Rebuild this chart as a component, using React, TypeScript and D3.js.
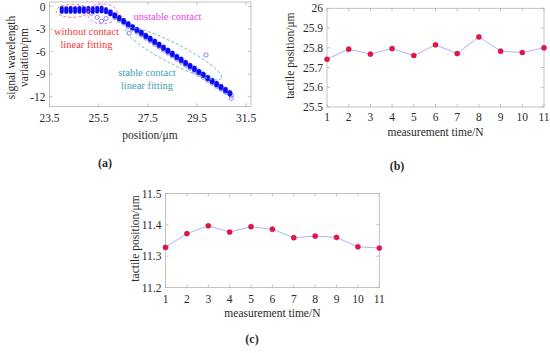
import * as React from 'react'
import * as d3 from 'd3'

// panel (a): stacked samples per position (high / low edge of each stack)
const positionUm = [
  24.0, 24.18, 24.36, 24.54, 24.72, 24.9, 25.08, 25.26, 25.44, 25.62,
  25.8, 25.98, 26.16, 26.34, 26.52, 26.7, 26.88, 27.06, 27.24, 27.42,
  27.6, 27.78, 27.96, 28.14, 28.32, 28.5, 28.68, 28.86, 29.04, 29.22,
  29.4, 29.58, 29.76, 29.94, 30.12, 30.3, 30.48, 30.66, 30.84,
]
const waveHigh = [
  -0.2, -0.22, -0.2, -0.21, -0.19, -0.21, -0.2, -0.22, -0.18, -0.15,
  -0.35, -0.72, -1.1, -1.45, -1.85, -2.25, -2.65, -3.02, -3.4, -3.82,
  -4.2, -4.6, -5.0, -5.4, -5.8, -6.2, -6.62, -7.0, -7.42, -7.82,
  -8.2, -8.62, -9.0, -9.42, -9.82, -10.22, -10.62, -11.02, -11.45,
]
const waveLow = [
  -0.7, -0.72, -0.7, -0.71, -0.69, -0.71, -0.7, -0.72, -0.68, -0.65,
  -0.75, -0.98, -1.3, -1.65, -2.05, -2.45, -2.85, -3.22, -3.6, -4.02,
  -4.4, -4.8, -5.2, -5.6, -6.0, -6.4, -6.82, -7.2, -7.62, -8.02,
  -8.4, -8.82, -9.2, -9.62, -10.02, -10.42, -10.82, -11.22, -11.65,
]
// open-circle samples (second run + outliers)
const hollowPos = [
  26.16, 26.34, 26.52, 26.7, 26.88, 27.06, 27.24, 27.42, 27.6, 27.78,
  27.96, 28.14, 28.32, 28.5, 28.68, 28.86, 29.04, 29.22, 29.4, 29.58,
  29.76, 29.94, 30.12, 30.3, 30.48, 30.66,
  25.2, 25.44, 25.62, 25.8, 26.74, 29.87, 30.9, 30.9,
]
const hollowWave = [
  -1.45, -1.82, -2.2, -2.62, -3.0, -3.4, -3.78, -4.2, -4.58, -5.0,
  -5.38, -5.8, -6.2, -6.58, -7.0, -7.4, -7.8, -8.2, -8.6, -9.0,
  -9.4, -9.8, -10.2, -10.6, -11.0, -11.4,
  -0.9, -1.45, -1.95, -1.6, -3.55, -6.44, -11.8, -12.2,
]
const waveTicks = [0, -3, -6, -9, -12]
const positionTicks = [23.5, 25.5, 27.5, 29.5, 31.5]

// panels (b) and (c)
const measureTimes = [1, 2, 3, 4, 5, 6, 7, 8, 9, 10, 11]
const tactileB = [25.742, 25.793, 25.768, 25.796, 25.761, 25.815, 25.771, 25.855, 25.783, 25.776, 25.8]
const tactileC = [11.328, 11.372, 11.397, 11.377, 11.394, 11.386, 11.359, 11.364, 11.36, 11.33, 11.326]
const tactileTicksB = [25.5, 25.6, 25.7, 25.8, 25.9, 26]
const tactileTicksC = [11.2, 11.3, 11.4, 11.5]

const FONT = 'Liberation Serif, Times New Roman, DejaVu Serif, serif'
const FRAME = '#b4b4b4'
const TEXT = '#2a2a2a'

type Sc = d3.ScaleLinear<number, number>

function Frame({ x, y, xTicks, yTicks }: { x: Sc; y: Sc; xTicks: number[]; yTicks: number[] }) {
  const [x0, x1] = x.range()
  const [y0, y1] = y.range()
  const t = 3
  return (
    <g stroke={FRAME} strokeWidth={0.8} fill="none">
      <rect x={x0} y={y1} width={x1 - x0} height={y0 - y1} />
      {xTicks.map(v => (
        <g key={'x' + v}>
          <line x1={x(v)} x2={x(v)} y1={y0} y2={y0 - t} />
          <line x1={x(v)} x2={x(v)} y1={y1} y2={y1 + t} />
        </g>
      ))}
      {yTicks.map(v => (
        <g key={'y' + v}>
          <line x1={x0} x2={x0 + t} y1={y(v)} y2={y(v)} />
          <line x1={x1} x2={x1 - t} y1={y(v)} y2={y(v)} />
        </g>
      ))}
    </g>
  )
}

function TickLabels({ x, y, xTicks, yTicks, xLabelY }: { x: Sc; y: Sc; xTicks: number[]; yTicks: number[]; xLabelY: number }) {
  const x0 = x.range()[0]
  return (
    <g style={{ fontFamily: FONT }} fontSize={11.5} fill={TEXT}>
      {xTicks.map(v => (
        <text key={'x' + v} x={x(v)} y={xLabelY} textAnchor="middle">{String(v)}</text>
      ))}
      {yTicks.map(v => (
        <text key={'y' + v} x={x0 - 4} y={y(v) + 4} textAnchor="end">{String(v)}</text>
      ))}
    </g>
  )
}

function PanelA() {
  const x = d3.scaleLinear().domain([23.5, 31.7]).range([49.5, 251])
  const y = d3.scaleLinear().domain([-13.3, 0.6]).range([106.5, 2])
  const r = 1.9

  const ell = (cx: number, cy: number, rxU: number, ryU: number) => ({
    cx: x(cx), cy: y(cy), rx: x(cx + rxU) - x(cx), ry: y(cy) - y(cy + ryU),
  })
  const red = ell(24.44, -0.57, 0.67, 0.87)
  const mag = ell(25.66, -0.97, 0.61, 1.33)
  // stable contact ellipse, along its two tips
  const p1 = [x(26.62), y(-3.0)]
  const p2 = [x(30.5), y(-9.55)]
  const tc = [(p1[0] + p2[0]) / 2, (p1[1] + p2[1]) / 2]
  const tLen = Math.hypot(p2[0] - p1[0], p2[1] - p1[1]) / 2
  const tAng = (Math.atan2(p2[1] - p1[1], p2[0] - p1[0]) * 180) / Math.PI

  return (
    <g>
      <Frame x={x} y={y} xTicks={positionTicks} yTicks={waveTicks} />
      {hollowPos.map((p, i) => (
        <circle key={'h' + i} cx={x(p)} cy={y(hollowWave[i])} r={2.1} fill="none" stroke="#6a6aff" strokeWidth={0.8} />
      ))}
      {positionUm.map((p, i) => {
        const rr = i < 11 ? r : 2.3
        const top = y(waveHigh[i]) - rr
        const bot = y(waveLow[i]) + rr
        return (
          <rect key={'f' + i} x={x(p) - rr} y={top} width={2 * rr} height={bot - top} rx={rr} ry={rr} fill="#0a0af0" stroke="#2a2aff" strokeWidth={0.4} />
        )
      })}
      <ellipse {...red} fill="none" stroke="#ff5a5a" strokeWidth={0.8} strokeDasharray="3,2" />
      <ellipse {...mag} fill="none" stroke="#ee55ee" strokeWidth={0.8} strokeDasharray="3,2" />
      <ellipse cx={tc[0]} cy={tc[1]} rx={tLen} ry={10} transform={`rotate(${tAng} ${tc[0]} ${tc[1]})`} fill="none" stroke="#5fb0c0" strokeWidth={0.8} strokeDasharray="3,2" />
      <g style={{ fontFamily: FONT }} fontSize={10.5} textAnchor="middle">
        <text x={86.5} y={35} fill="#f23a3a">without contact</text>
        <text x={86.5} y={47.5} fill="#f23a3a">linear fitting</text>
        <text x={167.5} y={19.5} fill="#e845e8">unstable contact</text>
        <text x={147} y={76} fill="#3f9fb2">stable contact</text>
        <text x={147} y={89} fill="#3f9fb2">linear fitting</text>
      </g>
      <TickLabels x={x} y={y} xTicks={positionTicks} yTicks={waveTicks} xLabelY={122} />
      <g style={{ fontFamily: FONT }} fontSize={11.5} fill={TEXT} textAnchor="middle">
        <text x={150} y={139}>position/μm</text>
        <text transform="translate(15,57.5) rotate(-90)">signal wavelength</text>
        <text transform="translate(28,57.5) rotate(-90)">variation/pm</text>
      </g>
      <text x={105} y={167} style={{ fontFamily: FONT }} fontSize={12} fontWeight="bold" textAnchor="middle" fill={TEXT}>(a)</text>
    </g>
  )
}

function LinePanel({ values, ticks, domain, xr, yr, xLabelY, titleY, yTitleX, label, labelPos }: {
  values: number[]; ticks: number[]; domain: [number, number]; xr: [number, number]; yr: [number, number];
  xLabelY: number; titleY: number; yTitleX: number; label: string; labelPos: [number, number]
}) {
  const x = d3.scaleLinear().domain([1, 11]).range(xr)
  const y = d3.scaleLinear().domain(domain).range(yr)
  const line = d3.line<number>().x((_, i) => x(measureTimes[i])).y(d => y(d))
  const cy = (yr[0] + yr[1]) / 2
  return (
    <g>
      <Frame x={x} y={y} xTicks={measureTimes} yTicks={ticks} />
      <path d={line(values) ?? ''} fill="none" stroke="#a3a8ff" strokeWidth={0.9} />
      {values.map((v, i) => (
        <circle key={i} cx={x(measureTimes[i])} cy={y(v)} r={2.6} fill="#ee1133" stroke="#9a2a8a" strokeWidth={0.4} />
      ))}
      <TickLabels x={x} y={y} xTicks={measureTimes} yTicks={ticks} xLabelY={xLabelY} />
      <g style={{ fontFamily: FONT }} fontSize={11.5} fill={TEXT} textAnchor="middle">
        <text x={(xr[0] + xr[1]) / 2} y={titleY}>measurement time/N</text>
        <text transform={`translate(${yTitleX},${cy - 2}) rotate(-90)`}>tactile position/μm</text>
      </g>
      <text x={labelPos[0]} y={labelPos[1]} style={{ fontFamily: FONT }} fontSize={12} fontWeight="bold" textAnchor="middle" fill={TEXT}>{label}</text>
    </g>
  )
}

export default function App() {
  return (
    <svg width={550} height={353} style={{ position: 'absolute', left: 0, top: 0, background: '#fff' }}>
      <PanelA />
      <LinePanel values={tactileB} ticks={tactileTicksB} domain={[25.5, 26]} xr={[327, 544]} yr={[107, 8.3]}
        xLabelY={120.5} titleY={135.5} yTitleX={294} label="(b)" labelPos={[397, 170]} />
      <LinePanel values={tactileC} ticks={tactileTicksC} domain={[11.2, 11.5]} xr={[165.5, 379.3]} yr={[287.5, 193.5]}
        xLabelY={303} titleY={317} yTitleX={139} label="(c)" labelPos={[252, 343]} />
    </svg>
  )
}
